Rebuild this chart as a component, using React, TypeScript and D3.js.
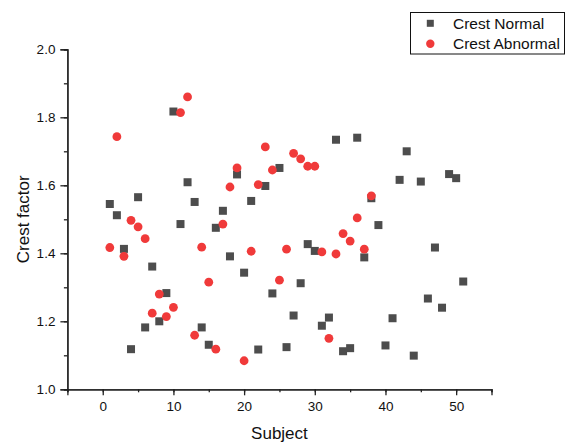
import * as d3 from 'd3';
import React, { useEffect, useRef } from 'react';

// subject numbers and crest factor values
const normalSubjects = d3.range(1, 52);
const normalValues = [
  1.545, 1.512, 1.413, 1.118, 1.565, 1.182, 1.361, 1.2, 1.283, 1.817,
  1.486, 1.609, 1.551, 1.182, 1.131, 1.475, 1.525, 1.391, 1.632, 1.343,
  1.554, 1.117, 1.598, 1.282, 1.651, 1.124, 1.217, 1.312, 1.427, 1.407,
  1.187, 1.211, 1.734, 1.112, 1.121, 1.74, 1.388, 1.562, 1.483, 1.129,
  1.209, 1.616, 1.7, 1.099, 1.611, 1.267, 1.417, 1.24, 1.633, 1.621,
  1.317,
];

const abnormalSubjects = d3.range(1, 39);
const abnormalValues = [
  1.417, 1.743, 1.391, 1.497, 1.478, 1.443, 1.224, 1.28, 1.214, 1.241,
  1.814, 1.86, 1.159, 1.418, 1.315, 1.118, 1.486, 1.595, 1.651, 1.084,
  1.406, 1.602, 1.713, 1.645, 1.321, 1.412, 1.694, 1.678, 1.656, 1.656,
  1.404, 1.15, 1.398, 1.458, 1.436, 1.504, 1.412, 1.569,
];

const xTicks = [0, 10, 20, 30, 40, 50];
const yTicks = [1.0, 1.2, 1.4, 1.6, 1.8, 2.0];
const seriesNames = ['Crest Normal', 'Crest Abnormal'];

const W = 570;
const H = 442;
const FONT = 'Liberation Sans, Arial, sans-serif';
const GRAY = '#4d4d4d';
const RED = '#f03a3a';

const App = () => {
  const ref = useRef(null);

  useEffect(() => {
    const svg = d3.select(ref.current);
    svg.selectAll('*').remove();

    const x = d3.scaleLinear().domain([-5, 55]).range([67.4, 491.5]);
    const y = d3.scaleLinear().domain([1.0, 2.0]).range([389.3, 49.3]);

    // x axis
    const xAxis = svg.append('g').attr('transform', `translate(0, ${y(1.0)})`);
    xAxis.call(
      d3.axisBottom(x).tickValues(d3.range(-5, 56, 5)).tickSize(3).tickFormat(() => '')
    );
    xAxis.append('g').call(
      d3.axisBottom(x).tickValues(xTicks).tickSize(6).tickPadding(6).tickFormat(d3.format('d'))
    );
    xAxis.selectAll('.domain').attr('stroke', '#222').attr('stroke-width', 1.3);
    xAxis.selectAll('line').attr('stroke', '#222').attr('stroke-width', 1.3);
    xAxis.selectAll('text').attr('font-family', FONT).attr('font-size', 13.5).attr('fill', '#111');

    // y axis
    const yAxis = svg.append('g').attr('transform', `translate(${x(-5)}, 0)`);
    yAxis.call(
      d3.axisLeft(y).tickValues(d3.range(1.0, 2.01, 0.1)).tickSize(3.5).tickFormat(() => '')
    );
    yAxis.append('g').call(
      d3.axisLeft(y).tickValues(yTicks).tickSize(7).tickPadding(5).tickFormat(d3.format('.1f'))
    );
    yAxis.selectAll('.domain').attr('stroke', '#222').attr('stroke-width', 1.3);
    yAxis.selectAll('line').attr('stroke', '#222').attr('stroke-width', 1.3);
    yAxis.selectAll('text').attr('font-family', FONT).attr('font-size', 13.5).attr('fill', '#111');

    // axis titles
    svg.append('text')
      .attr('x', (x(-5) + x(55)) / 2)
      .attr('y', 439)
      .attr('text-anchor', 'middle')
      .attr('font-family', FONT)
      .attr('font-size', 17)
      .attr('fill', '#111')
      .text('Subject');

    svg.append('text')
      .attr('transform', `translate(29, ${(y(1) + y(2)) / 2}) rotate(-90)`)
      .attr('text-anchor', 'middle')
      .attr('font-family', FONT)
      .attr('font-size', 17)
      .attr('fill', '#111')
      .text('Crest factor');

    // points
    const sq = 8;
    svg.append('g')
      .selectAll('rect')
      .data(normalSubjects)
      .enter()
      .append('rect')
      .attr('x', (d) => x(d) - sq / 2)
      .attr('y', (d, i) => y(normalValues[i]) - sq / 2)
      .attr('width', sq)
      .attr('height', sq)
      .attr('fill', GRAY);

    svg.append('g')
      .selectAll('circle')
      .data(abnormalSubjects)
      .enter()
      .append('circle')
      .attr('cx', (d) => x(d))
      .attr('cy', (d, i) => y(abnormalValues[i]))
      .attr('r', 4.4)
      .attr('fill', RED);

    // legend
    const lg = svg.append('g');
    lg.append('rect')
      .attr('x', 410.5)
      .attr('y', 12.5)
      .attr('width', 154)
      .attr('height', 41.5)
      .attr('fill', 'white')
      .attr('stroke', '#111')
      .attr('stroke-width', 1);
    lg.append('rect')
      .attr('x', 430.3 - 3.5)
      .attr('y', 23.3 - 3.5)
      .attr('width', 7)
      .attr('height', 7)
      .attr('fill', GRAY);
    lg.append('circle')
      .attr('cx', 430.3)
      .attr('cy', 43.7)
      .attr('r', 4.2)
      .attr('fill', RED);
    seriesNames.forEach((name, i) => {
      lg.append('text')
        .attr('x', 453)
        .attr('y', 23.3 + i * 20.4)
        .attr('dy', '0.36em')
        .attr('font-family', FONT)
        .attr('font-size', 15.5)
        .attr('fill', '#111')
        .text(name);
    });
  }, []);

  return (
    <div style={{ position: 'absolute', left: 0, top: 0 }}>
      <svg ref={ref} width={W} height={H} style={{ display: 'block', background: 'white' }}></svg>
    </div>
  );
};

export default App;
